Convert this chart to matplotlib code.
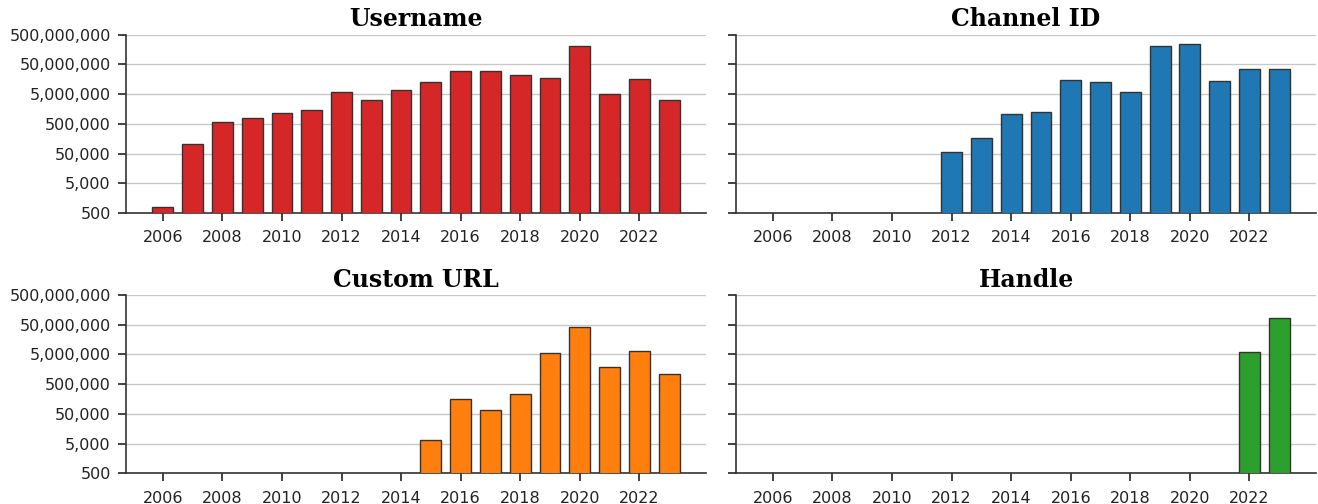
import numpy as np
import matplotlib
matplotlib.use("Agg")
import matplotlib.pyplot as plt
from matplotlib.ticker import FuncFormatter, FixedLocator, NullLocator

plt.rcParams['font.family'] = ['DejaVu Sans']

# counts per year
user_years = list(range(2006, 2024))
user_vals = [780, 102000, 590000, 810000, 1160000, 1430000, 6100000, 3200000,
             6800000, 12400000, 29800000, 29800000, 21800000, 17700000,
             203000000, 5000000, 16000000, 3100000]

chan_years = list(range(2012, 2024))
chan_vals = [56000, 167000, 1080000, 1290000, 14800000, 12400000, 6100000,
             203000000, 250000000, 13700000, 35700000, 35700000]

url_years = list(range(2015, 2024))
url_vals = [6650, 152000, 68000, 224000, 5500000, 42800000, 1870000,
            6650000, 1060000]

handle_years = [2022, 2023]
handle_vals = [6150000, 84000000]

panels = [
    ("Username", user_years, user_vals, "#d62728"),
    ("Channel ID", chan_years, chan_vals, "#1f77b4"),
    ("Custom URL", url_years, url_vals, "#ff7f0e"),
    ("Handle", handle_years, handle_vals, "#2ca02c"),
]

yticks = [500, 5000, 50000, 500000, 5000000, 50000000, 500000000]
xticks = list(range(2006, 2023, 2))

fig, axes = plt.subplots(2, 2, figsize=(13.18, 5.04), dpi=100,
                         sharex=True, sharey=True)
fig.subplots_adjust(left=0.0956, right=0.9985, top=0.931, bottom=0.061,
                    wspace=0.052, hspace=0.46)

for ax, (title, years, vals, color) in zip(axes.flat, panels):
    ax.bar(years, vals, width=0.7, color=color, edgecolor="#333333",
           linewidth=1.0, zorder=3)
    ax.set_title(title, fontsize=17, fontweight="bold", pad=6,
                 family="DejaVu Serif")
    ax.set_yscale("log")
    ax.grid(axis="y", color="#c8c8c8", linewidth=1.0, zorder=0)
    ax.spines["top"].set_visible(False)
    ax.spines["right"].set_visible(False)
    for s in ("left", "bottom"):
        ax.spines[s].set_color("#333333")
        ax.spines[s].set_linewidth(1.2)
    ax.tick_params(labelbottom=True, labelsize=11.5, colors="#222222",
                   length=6, width=1.2, pad=5)
    ax.tick_params(axis="x", pad=6.5)

ax0 = axes[0, 0]
ax0.set_ylim(500, 500000000)
ax0.yaxis.set_major_locator(FixedLocator(yticks))
ax0.yaxis.set_minor_locator(NullLocator())
ax0.yaxis.set_major_formatter(FuncFormatter(lambda v, p: f"{int(round(v)):,}"))
ax0.set_xticks(xticks)

fig.savefig("out.png", dpi=100)
